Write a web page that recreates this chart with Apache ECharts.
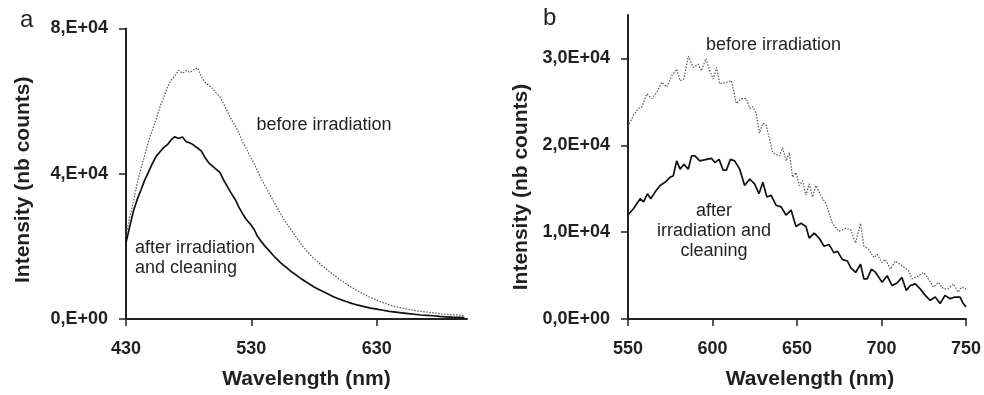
<!DOCTYPE html>
<html><head><meta charset="utf-8">
<script src="https://cdn.jsdelivr.net/npm/echarts@6/dist/echarts.min.js"></script>
<style>html,body{margin:0;padding:0;background:#fff}#c{width:984px;height:395px}</style>
</head><body><div id="c"></div>
<script>
// ---- Panel a data ----
const leftWl = [430,433,436,439,442,445,448,451,454,457,460,463,466,469,472,475,478,481,484,487,490,493,496,499,502,505,508,511,514,517,520,523,526,529,532,535,538,541,544,547,550,553,556,559,562,565,570,575,580,585,590,595,600,605,610,615,620,625,630,635,640,645,650,655,660,665,670,675,680,685,690,695,700];
const leftBefore = [23000,28000,32500,37500,41500,45200,49000,52000,55000,58300,61000,63800,65800,67000,68500,67700,68400,67900,68600,69200,66800,65200,64300,63500,62200,61200,59200,57000,55000,53200,51300,48800,46900,44800,42900,40800,38500,36600,34700,32900,31000,29200,27400,25900,24400,22900,20500,18400,16600,15100,13700,12300,11000,9800,8700,7700,6800,5900,5200,4500,3900,3400,3000,2700,2400,2100,1900,1700,1500,1300,1200,1100,900];
const leftAfter = [21000,25500,29800,33000,35600,38300,40500,42800,44800,46000,47200,48000,49300,50200,49700,50100,48800,48500,47900,47100,46300,44500,43000,42100,41200,40300,38200,36400,34600,33000,30800,29000,27400,26200,24800,22700,21300,20000,18900,17700,16600,15600,14700,13900,13000,12300,11000,9900,8800,7900,7100,6200,5500,4900,4300,3800,3400,3000,2700,2400,2100,1900,1700,1500,1300,1100,1000,900,700,600,500,450,400];

// ---- Panel b data ----
const rightWlBefore = [550,553.3,556.2,558.2,561.2,564.1,567.1,570,572.9,575.9,578.8,580.8,583.1,585.7,588.6,591.5,593.5,596.1,598.4,600.4,602.4,604.3,608.2,611.2,614.1,617.1,620,622,623.9,625.9,627.8,629.8,631.7,635.7,639.6,641.5,643.5,645.5,647.4,649.4,651.4,653.3,655.3,657.2,659.2,661.2,664.1,667.1,671,674.9,678.9,681.8,684.7,687.6,689.6,692.5,695.5,697.4,700.4,702.3,705.3,708.2,712.1,716.1,718,722,724.9,727.8,730.8,733.7,736.6,739.6,742.5,745.5,747.4,750];
const rightBefore = [22160,23480,24240,24430,25930,25370,26130,27260,26690,28010,28770,27440,27630,30270,28960,29330,28570,29980,28570,27630,28960,27070,27260,27440,24800,25370,25370,24240,24430,23670,21400,22540,22350,19140,18770,19710,18200,19140,16310,16870,15370,15930,14240,15550,14040,15370,14240,13280,11020,10080,10450,10270,8750,11020,8380,8000,7060,7440,6490,6870,5740,6680,6120,5550,4610,4980,5360,4610,3660,4220,3470,3470,4040,3090,3660,3470];
const rightWlAfter = [550,553.3,557.2,559.2,561.5,563.5,566,569,571.9,574.9,576.8,578.8,580.8,583.1,585.7,587.6,589.6,592.5,596.5,599.4,601.4,603.9,606.3,608.2,610.6,613.1,616.1,619,622,624.9,627.5,629.8,632.2,634.7,637.6,640.6,643.5,646.5,649.4,652.4,655.3,657.2,660.2,663.1,666,669,671.9,673.9,676.8,679.8,681.8,684.7,687.6,689.6,691.5,694.1,696.5,700.4,703.3,706.3,709.2,712.1,714.7,717,720,722.9,725.9,728.8,731.8,734.7,737.6,740.6,743.5,746.5,748.4,750];
const rightAfter = [11970,12720,13850,13480,14420,13850,14610,15370,15740,16310,16500,18200,17250,17810,17250,18770,18770,18200,18380,18490,18010,18380,17130,17130,18380,18200,17250,15370,16120,15550,14420,15740,14040,14240,13100,12910,11970,12540,10650,11020,10650,9320,9890,9320,8380,8570,7620,7810,6870,6680,5920,5360,6310,4610,4610,5740,5360,4220,4980,3850,4150,4790,3280,3850,4040,3470,2720,2150,2530,1780,2720,2340,2530,2530,1780,1400];

// ---- Tick labels ----
const leftXTicks = [430, 530, 630];
const leftYTicks = [0, 40000, 80000];
const leftYTickLabels = ['0,E+00', '4,E+04', '8,E+04'];
const rightXTicks = [550, 600, 650, 700, 750];
const rightYTicks = [0, 10000, 20000, 30000];
const rightYTickLabels = ['0,0E+00', '1,0E+04', '2,0E+04', '3,0E+04'];

const xTitle = 'Wavelength (nm)';
const yTitle = 'Intensity (nb counts)';
const labelBefore = 'before irradiation';
const labelAfterA = 'after irradiation\nand cleaning';
const labelAfterB = 'after\nirradiation and\ncleaning';

const FONT = '"Liberation Sans", Arial, Helvetica, sans-serif';
const TXT = '#231f20';

function pairs(xs, ys) { return xs.map((x, i) => [x, ys[i]]); }

function xAxisCfg(gi, min, max, ticks, gapPad) {
  return {
    gridIndex: gi, type: 'value', min: min, max: max,
    name: xTitle, nameLocation: 'middle', nameGap: 50,
    nameTextStyle: { fontFamily: FONT, fontWeight: 'bold', fontSize: 21, color: TXT, padding: gapPad },
    axisLine: { show: true, onZero: false, lineStyle: { color: '#222', width: 2 } },
    axisTick: { show: true, inside: false, length: 7, customValues: ticks, lineStyle: { color: '#222', width: 1.5 } },
    axisLabel: { customValues: ticks, margin: 21, fontFamily: FONT, fontWeight: 'bold', fontSize: 18, color: TXT },
    splitLine: { show: false }
  };
}
function yAxisCfg(gi, min, max, ticks, labels, gap, pad) {
  return {
    gridIndex: gi, type: 'value', min: min, max: max,
    name: yTitle, nameLocation: 'middle', nameGap: gap, nameRotate: 90,
    nameTextStyle: { fontFamily: FONT, fontWeight: 'bold', fontSize: 21, color: TXT, padding: pad },
    axisLine: { show: true, onZero: false, lineStyle: { color: '#222', width: 2 } },
    axisTick: { show: true, inside: false, length: 7, customValues: ticks, lineStyle: { color: '#222', width: 1.5 } },
    axisLabel: { customValues: ticks, margin: 18, fontFamily: FONT, fontWeight: 'bold', fontSize: 18, color: TXT,
      formatter: function (v) { const i = ticks.indexOf(v); return i >= 0 ? labels[i] : ''; } },
    splitLine: { show: false }
  };
}
const dotted = { color: '#555', width: 1.2, type: [1.5, 1.5] };
const solid = { color: '#111', width: 1.7, type: 'solid' };

const chart = echarts.init(document.getElementById('c'), null, { renderer: 'canvas' });
chart.setOption({
  animation: false,
  backgroundColor: '#fff',
  grid: [
    { left: 126, top: 28.5, right: 517, bottom: 72, containLabel: false },
    { left: 628, top: 15, right: 16, bottom: 71, containLabel: false }
  ],
  xAxis: [ xAxisCfg(0, 430, 702, leftXTicks, [0, 0, 0, 20]), xAxisCfg(1, 550, 750, rightXTicks, [0, 0, 0, 26]) ],
  yAxis: [ yAxisCfg(0, 0, 80000, leftYTicks, leftYTickLabels, 92, [0, 12, 0, 0]),
           yAxisCfg(1, 0, 35000, rightYTicks, rightYTickLabels, 96, [0, 40, 0, 0]) ],
  series: [
    { name: 'a before', type: 'line', xAxisIndex: 0, yAxisIndex: 0, data: pairs(leftWl, leftBefore), showSymbol: false, lineStyle: dotted, z: 2 },
    { name: 'a after', type: 'line', xAxisIndex: 0, yAxisIndex: 0, data: pairs(leftWl, leftAfter), showSymbol: false, lineStyle: solid, z: 3 },
    { name: 'b before', type: 'line', xAxisIndex: 1, yAxisIndex: 1, data: pairs(rightWlBefore, rightBefore), showSymbol: false, lineStyle: dotted, z: 2 },
    { name: 'b after', type: 'line', xAxisIndex: 1, yAxisIndex: 1, data: pairs(rightWlAfter, rightAfter), showSymbol: false, lineStyle: solid, z: 3 }
  ]
});

// annotations anchored in data coordinates
function px(gi, x, y) { return chart.convertToPixel({ xAxisIndex: gi, yAxisIndex: gi }, [x, y]); }
const annFont = '18px ' + FONT;
const pA1 = px(0, 534, 53400);
const pA2 = px(0, 437.2, 22300);
const pB1 = px(1, 636.1, 31600);
const pB2 = px(1, 600.9, 10100);
chart.setOption({
  graphic: [
    { type: 'text', left: 20, top: 8, style: { text: 'a', font: '24px ' + FONT, fill: TXT } },
    { type: 'text', left: 543, top: 6, style: { text: 'b', font: '24px ' + FONT, fill: TXT } },
    { type: 'text', x: pA1[0], y: pA1[1], style: { text: labelBefore, font: annFont, fill: TXT, textAlign: 'left', textVerticalAlign: 'middle' } },
    { type: 'text', x: pA2[0], y: pA2[1], style: { text: labelAfterA, font: annFont, fill: TXT, lineHeight: 20, textAlign: 'left', textVerticalAlign: 'top' } },
    { type: 'text', x: pB1[0], y: pB1[1], style: { text: labelBefore, font: annFont, fill: TXT, textAlign: 'center', textVerticalAlign: 'middle' } },
    { type: 'text', x: pB2[0], y: pB2[1], style: { text: labelAfterB, font: annFont, fill: TXT, lineHeight: 20, textAlign: 'center', textVerticalAlign: 'middle' } }
  ]
});
</script></body></html>
